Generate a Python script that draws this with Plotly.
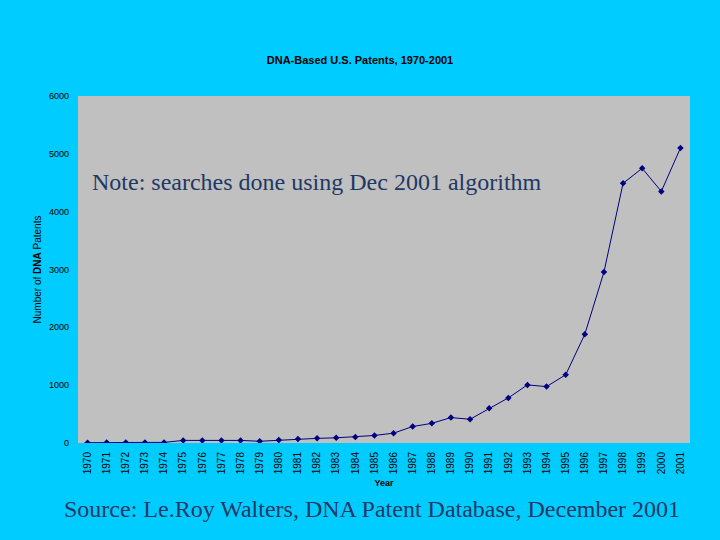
import plotly.graph_objects as go

years = [str(y) for y in range(1970, 2002)]
patents = [5, 10, 10, 10, 10, 45, 45, 45, 45, 30, 50, 70, 80, 90, 105, 130,
           170, 285, 340, 440, 410, 600, 780, 1005, 975, 1180, 1880, 2955,
           4490, 4750, 4350, 5100]
y_ticks = [0, 1000, 2000, 3000, 4000, 5000, 6000]

title_text = "DNA-Based U.S. Patents, 1970-2001"
note_text = "Note: searches done using Dec 2001 algorithm"
source_text = "Source: Le.Roy Walters, DNA Patent Database, December 2001"

fig = go.Figure()
fig.add_trace(go.Scatter(
    x=years, y=patents, mode="lines+markers",
    line=dict(color="#000080", width=1),
    marker=dict(symbol="diamond", size=5, color="#000080"),
    showlegend=False,
))

fig.update_layout(
    width=720, height=540,
    paper_bgcolor="#00CCFF", plot_bgcolor="#C0C0C0",
    margin=dict(l=78, r=30, t=96, b=97),
    font=dict(family="Liberation Sans, Arial, sans-serif", color="black"),
    title=dict(text="<b>" + title_text + "</b>", x=0.5, xanchor="center",
               y=1 - 60 / 540, yref="container", yanchor="middle",
               font=dict(size=11, color="black")),
    xaxis=dict(type="category", range=[-0.5, 31.5], tickangle=-90,
               tickfont=dict(size=10), showgrid=False, zeroline=False,
               ticks="", showline=False, ticklabelstandoff=6,
               title=dict(text="<b>Year</b>", font=dict(size=9), standoff=6)),
    yaxis=dict(range=[0, 6000], tickvals=y_ticks, tickfont=dict(size=9),
               showgrid=False, zeroline=False, ticks="", ticklabelstandoff=8,
               title=dict(text="Number of <b>DNA</b> Patents", font=dict(size=10), standoff=5)),
    annotations=[
        dict(text=note_text, xref="paper", yref="paper", x=12 / 612, y=(443 - 182) / 347,
             xanchor="left", yanchor="middle", showarrow=False,
             font=dict(family="Liberation Serif, Times New Roman, serif", size=24, color="#1F3864")),
        dict(text=source_text, xref="paper", yref="paper", x=(372 - 78) / 612, y=-(509 - 443) / 347,
             xanchor="center", yanchor="middle", showarrow=False,
             font=dict(family="Liberation Serif, Times New Roman, serif", size=24, color="#1F3864")),
    ],
)

fig.write_html("out.html", config={"displayModeBar": False},
               post_script="document.body.style.margin='0';document.body.style.background='#00CCFF';")
